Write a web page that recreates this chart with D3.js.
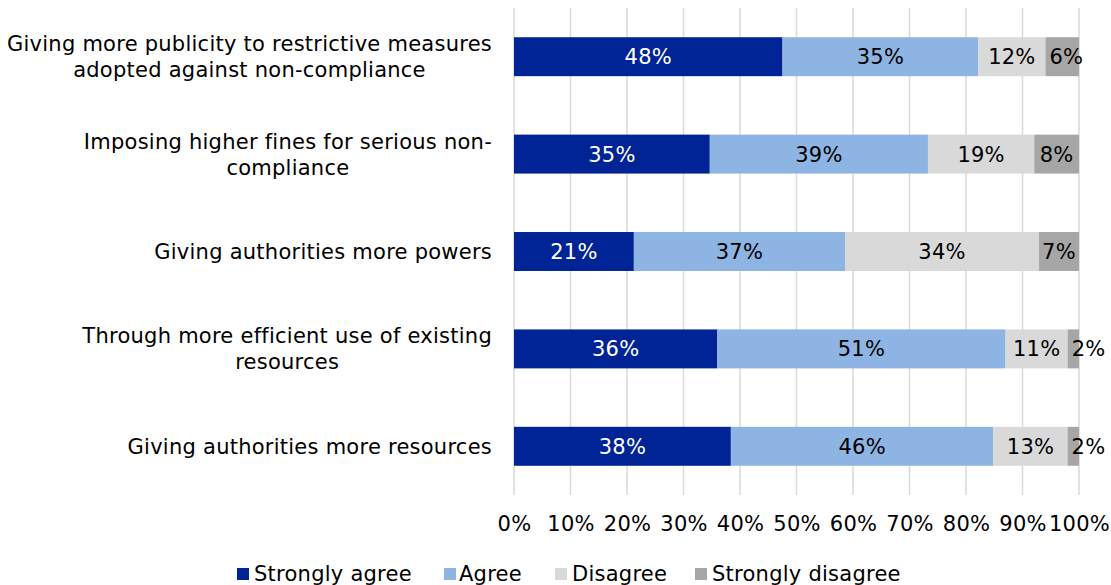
<!DOCTYPE html>
<html>
<head>
<meta charset="utf-8">
<script src="https://cdn.jsdelivr.net/npm/d3@7"></script>
<style>
  html, body { margin: 0; padding: 0; background: #fff; }
  svg { display: block; font-family: "DejaVu Sans", Verdana, sans-serif; letter-spacing: 0.25px; }
</style>
</head>
<body>
<svg id="chart" width="1111" height="585"></svg>
<script>
// Survey measures (lines split with \n as they wrap in the label column)
const categories = [
  "Giving more publicity to restrictive measures\nadopted against non-compliance",
  "Imposing higher fines for serious non-\ncompliance",
  "Giving authorities more powers",
  "Through more efficient use of existing\nresources",
  "Giving authorities more resources"
];
const seriesNames = ["Strongly agree", "Agree", "Disagree", "Strongly disagree"];
const stronglyAgree    = [48, 35, 21, 36, 38];
const agree            = [35, 39, 37, 51, 46];
const disagree         = [12, 19, 34, 11, 13];
const stronglyDisagree = [6, 8, 7, 2, 2];
const tickValues = [0, 0.1, 0.2, 0.3, 0.4, 0.5, 0.6, 0.7, 0.8, 0.9, 1.0];

const colors = ["#002395", "#8EB4E3", "#D9D9D9", "#A6A6A6"];
const labelColors = ["#ffffff", "#000000", "#000000", "#000000"];
const FONT = 21;

const svg = d3.select("#chart");

// Rows as records; each bar is normalised to its own total (100% stacked)
const series = [stronglyAgree, agree, disagree, stronglyDisagree];
const rows = categories.map((c, i) => {
  const r = { category: c };
  seriesNames.forEach((s, k) => { r[s] = series[k][i]; });
  r.total = d3.sum(series, arr => arr[i]);
  return r;
});

const stack = d3.stack()
  .keys(seriesNames)
  .value((d, key) => d[key] / d.total);
const stacked = stack(rows);

const x = d3.scaleLinear().domain([0, 1]).range([514, 1079]);
const y = d3.scaleBand().domain(categories).range([8, 495])
  .paddingInner(0.6).paddingOuter(0.3);

// Vertical gridlines
svg.append("g")
  .selectAll("line")
  .data(tickValues)
  .join("line")
  .attr("x1", d => x(d)).attr("x2", d => x(d))
  .attr("y1", 8).attr("y2", 495)
  .attr("stroke", "#d9d9d9")
  .attr("stroke-width", 1.5);

// Bar segments
const layers = svg.append("g")
  .selectAll("g")
  .data(stacked)
  .join("g")
  .attr("fill", (d, i) => colors[i]);

layers.selectAll("rect")
  .data(d => d)
  .join("rect")
  .attr("x", d => x(d[0]))
  .attr("width", d => x(d[1]) - x(d[0]))
  .attr("y", d => y(d.data.category))
  .attr("height", y.bandwidth());

// Segment value labels: centred, or started just inside a segment too narrow to hold them
const valueLabels = svg.append("g")
  .selectAll("g")
  .data(stacked)
  .join("g")
  .attr("fill", (d, i) => labelColors[i])
  .selectAll("text")
  .data(d => d.map(p => ({ p, key: d.key })))
  .join("text")
  .attr("x", d => (x(d.p[0]) + x(d.p[1])) / 2)
  .attr("y", d => y(d.p.data.category) + y.bandwidth() / 2)
  .attr("dy", "0.36em")
  .attr("text-anchor", "middle")
  .attr("font-size", FONT)
  .text(d => d.p.data[d.key] + "%");

valueLabels.each(function (d) {
  const w = this.getComputedTextLength();
  const segW = x(d.p[1]) - x(d.p[0]);
  if (w > segW) {
    d3.select(this).attr("text-anchor", "start").attr("x", x(d.p[0]) + 4);
  }
});

// Category labels: centred block, right edge aligned to the label column
const labelRight = 492;
const lineGap = 26;
const catG = svg.append("g");
categories.forEach(c => {
  const lines = c.split("\n");
  const t = catG.append("text")
    .attr("font-size", FONT)
    .attr("fill", "#000")
    .attr("text-anchor", "middle");
  const cy = y(c) + y.bandwidth() / 2;
  const first = cy - (lines.length - 1) * lineGap / 2;
  lines.forEach((ln, i) => {
    t.append("tspan").attr("x", 0).attr("y", first + i * lineGap).attr("dy", "0.36em").text(ln);
  });
  const w = d3.max(t.selectAll("tspan").nodes(), n => n.getComputedTextLength());
  t.selectAll("tspan").attr("x", labelRight - w / 2);
});

// X axis tick labels
const axis = d3.axisBottom(x)
  .tickValues(tickValues)
  .tickFormat(d3.format(".0%"))
  .tickSize(0)
  .tickPadding(0);
const axG = svg.append("g")
  .attr("transform", "translate(0,516)")
  .call(axis);
axG.select(".domain").remove();
axG.selectAll("text")
  .attr("font-size", FONT)
  .attr("font-family", "DejaVu Sans, Verdana, sans-serif")
  .attr("fill", "#000");

// Legend
const legendX = [237, 444, 555, 695];
const legend = svg.append("g")
  .selectAll("g")
  .data(seriesNames)
  .join("g")
  .attr("transform", (d, i) => `translate(${legendX[i]},573)`);
legend.append("rect")
  .attr("x", 0).attr("y", -5)
  .attr("width", 12).attr("height", 12)
  .attr("fill", (d, i) => colors[i]);
legend.append("text")
  .attr("x", (d, i) => [17, 15, 17, 17][i])
  .attr("dy", "0.36em")
  .attr("font-size", FONT)
  .attr("fill", "#000")
  .text(d => d);
</script>
</body>
</html>
